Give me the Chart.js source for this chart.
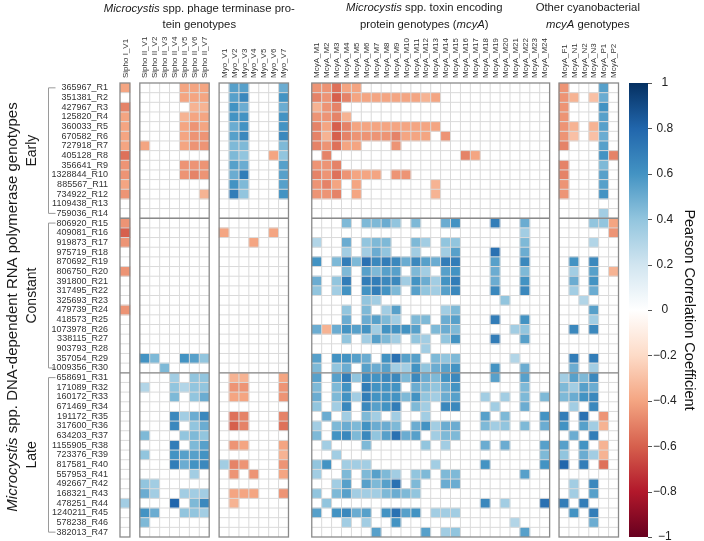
<!DOCTYPE html>
<html><head><meta charset="utf-8">
<script src="https://cdn.jsdelivr.net/npm/chart.js@4"></script>
<style>html,body{margin:0;padding:0;background:#fff}</style>
</head><body>
<canvas id="c" width="704" height="541"></canvas>
<script>
const FONT = "'Liberation Sans', Arial, Helvetica, sans-serif";

const rowLabels = ['365967_R1','351381_R2','427967_R3','125820_R4','360033_R5','670582_R6','727918_R7','405128_R8','356641_R9','1328844_R10','885567_R11','734922_R12','1109438_R13','759036_R14',
'806920_R15','409081_R16','919873_R17','975719_R18','870692_R19','806750_R20','391800_R21','317495_R22','325693_R23','479739_R24','418573_R25','1073978_R26','338115_R27','903793_R28','357054_R29','1009356_R30',
'658691_R31','171089_R32','160172_R33','671469_R34','191172_R35','317600_R36','634203_R37','1155905_R38','723376_R39','817581_R40','557953_R41','492667_R42','168321_R43','478251_R44','1240211_R45','578238_R46','382013_R47'];
const groupNames = ['Early','Constant','Late'];
const groupSizes = [14,16,17];

const siphoICols = ['Sipho I_V1'];
const siphoIICols = ['Sipho II_V1','Sipho II_V2','Sipho II_V3','Sipho II_V4','Sipho II_V5','Sipho II_V6','Sipho II_V7'];
const myoCols = ['Myo_V1','Myo_V2','Myo_V3','Myo_V4','Myo_V5','Myo_V6','Myo_V7'];
const mcyaCols = ['McyA_M1','McyA_M2','McyA_M3','McyA_M4','McyA_M5','McyA_M6','McyA_M7','McyA_M8','McyA_M9','McyA_M10','McyA_M11','McyA_M12','McyA_M13','McyA_M14','McyA_M15','McyA_M16','McyA_M17','McyA_M18','McyA_M19','McyA_M20','McyA_M21','McyA_M22','McyA_M23','McyA_M24'];
const otherCols = ['McyA_F1','McyA_N1','McyA_N2','McyA_N3','McyA_P1','McyA_P2'];

// Pearson correlation values (0 = not shown)
const siphoIVals = [-.4,0,-.5,-.4,-.4,-.4,-.4,-.55,-.45,-.45,-.4,-.45,0,0,
-.45,-.6,-.45,0,0,-.45,0,0,0,-.45,0,0,0,0,0,0,
0,0,0,0,0,0,0,0,0,0,0,0,0,.35,0,0,0];

const siphoIIVals = [
[0,0,0,0,-.4,-.4,-.4],[0,0,0,0,-.4,-.4,-.4],[0,0,0,0,0,-.35,-.35],[0,0,0,0,-.35,-.4,-.4],[0,0,0,0,-.4,-.45,-.4],
[0,0,0,0,-.4,-.45,-.45],[-.4,0,0,0,-.4,-.45,-.45],[0,0,0,0,0,0,0],[0,0,0,0,-.45,-.45,-.45],[0,0,0,0,-.45,-.5,-.45],
[0,0,0,0,0,0,0],[0,0,0,0,0,0,-.35],[0,0,0,0,0,0,0],[0,0,0,0,0,0,0],
[0,0,0,0,0,0,0],[0,0,0,0,0,0,0],[0,0,0,0,0,0,0],[0,0,0,0,0,0,0],[0,0,0,0,0,0,0],[0,0,0,0,0,0,0],[0,0,0,0,0,0,0],
[0,0,0,0,0,0,0],[0,0,0,0,0,0,0],[0,0,0,0,0,0,0],[0,0,0,0,0,0,0],[0,0,0,0,0,0,0],[0,0,0,0,0,0,0],[0,0,0,0,0,0,0],
[.6,.45,0,0,.6,.55,.4],[0,0,.45,0,0,0,0],
[0,0,0,.35,0,.4,.4],[.3,0,0,.4,.3,.4,.4],[0,0,0,.45,0,.4,.5],[0,0,0,0,0,0,0],[0,0,0,.65,.35,.5,.65],
[0,0,0,.65,0,.4,.5],[.45,0,0,0,.4,.45,.4],[0,0,0,.7,0,.45,.55],[.4,0,0,.6,.55,.55,.6],[0,0,0,.7,.5,.6,.65],
[0,0,0,0,0,.35,0],[.4,.35,0,0,0,0,0],[.5,.35,0,0,.35,.35,.35],[0,0,0,.8,0,.45,.65],[.6,.5,0,0,.4,.4,.35],
[.45,0,0,0,0,0,0],[0,0,0,0,0,0,0]];

const myoVals = [
[0,.55,.55,0,0,0,.5],[0,.55,.65,0,0,0,.6],[0,.6,.5,0,0,0,.5],[0,.6,.6,0,0,0,.6],[0,.5,.6,0,0,0,.6],
[0,.55,.65,0,0,0,.65],[0,.45,.45,0,0,0,.45],[0,.45,.4,0,0,-.4,.4],[0,.55,.5,0,0,0,.55],[0,.5,.7,0,0,0,.55],
[0,.6,.45,0,0,0,.55],[0,.7,.4,0,0,0,.6],[0,0,0,0,0,0,0],[0,0,0,0,0,0,0],
[0,0,0,0,0,0,0],[-.4,0,0,0,0,-.4,0],[0,0,0,-.4,0,0,0],[0,0,0,0,0,0,0],[0,0,0,0,0,0,0],[0,0,0,0,0,0,0],[0,0,0,0,0,0,0],
[0,0,0,0,0,0,0],[0,0,0,0,0,0,0],[0,0,0,0,0,0,0],[0,0,0,0,0,0,0],[0,0,0,0,0,0,0],[0,0,0,0,0,0,0],[0,0,0,0,0,0,0],
[0,0,0,0,0,0,0],[0,0,0,0,0,0,0],
[0,-.35,-.35,0,0,0,-.4],[0,-.45,-.45,0,0,0,-.45],[0,-.4,-.4,0,0,0,-.45],[0,0,0,0,0,0,0],[0,-.55,-.5,0,0,0,-.5],
[0,-.6,-.5,0,0,0,-.55],[0,0,0,0,0,0,0],[0,-.45,-.4,0,0,0,-.4],[0,0,0,0,0,0,-.35],[.35,-.5,-.45,0,0,0,-.45],
[0,-.45,0,-.45,0,0,-.4],[0,0,0,0,0,0,0],[0,-.4,-.4,-.4,0,0,-.45],[0,-.35,0,0,0,0,0],[0,0,0,0,0,0,0],
[0,0,0,0,0,0,0],[0,0,0,0,0,0,0]];

const mcyaVals = [
[-.45,-.45,-.55,-.4,-.4,0, 0,0,0,0,0,0, 0,0,0,0,0,0, 0,0,0,0,0,0],
[-.5,-.45,-.6,-.5,-.4,-.4, -.4,-.4,-.4,-.4,-.4,-.35, -.4,0,0,0,0,0, 0,0,0,0,0,0],
[-.35,-.45,-.5,0,0,0, 0,0,0,0,0,0, 0,0,0,0,0,0, 0,0,0,0,0,0],
[-.45,-.45,-.5,-.35,0,0, 0,0,0,0,0,0, 0,0,0,0,0,0, 0,0,0,0,0,0],
[-.5,-.4,-.6,-.5,-.4,-.4, -.4,-.4,-.4,-.4,-.4,-.4, -.4,0,0,0,0,0, 0,0,0,0,0,0],
[-.5,-.35,-.6,-.5,-.45,-.45, -.45,-.45,-.5,-.4,-.4,-.4, 0,-.45,0,0,0,0, 0,0,0,0,0,0],
[-.5,-.45,-.55,-.4,-.4,0, 0,0,-.45,0,0,0, 0,0,0,0,0,0, 0,0,0,0,0,0],
[0,-.5,0,0,0,0, 0,0,0,0,0,0, 0,0,0,-.5,-.4,0, 0,0,0,0,0,0],
[-.45,-.45,-.5,0,0,0, 0,0,0,0,0,0, 0,0,0,0,0,0, 0,0,0,0,0,0],
[-.5,-.45,-.55,-.45,-.4,-.4, -.4,0,-.45,-.45,0,0, 0,0,0,0,0,0, 0,0,0,0,0,0],
[-.45,-.5,-.4,0,-.4,0, 0,0,0,0,0,0, -.35,0,0,0,0,0, 0,0,0,0,0,0],
[-.45,-.45,-.5,0,-.4,0, 0,0,0,0,0,0, -.35,0,0,0,0,0, 0,0,0,0,0,0],
[0,0,0,0,0,0, 0,0,0,0,0,0, 0,0,0,0,0,0, 0,0,0,0,0,0],
[0,0,0,0,0,0, 0,0,0,0,0,0, 0,0,0,0,0,0, 0,0,0,0,0,0],
[0,0,0,.45,0,.45, .45,.5,.4,0,.45,0, 0,.5,.6,0,0,0, .7,0,0,.5,0,0],
[0,0,0,0,0,0, 0,0,0,0,0,0, 0,0,0,0,0,0, 0,0,0,.35,0,0],
[.3,0,0,.5,0,.4, .45,.45,0,0,.45,.35, 0,.4,.4,0,0,0, 0,0,0,.45,0,0],
[0,0,0,.35,0,.35, .5,.4,0,0,.35,0, 0,.35,.55,0,0,0, .75,0,0,.5,0,0],
[.6,0,.45,.7,.45,.75, .65,.7,.65,.5,.65,.55, .5,.7,.7,0,0,0, .55,0,0,.65,0,0],
[0,0,0,.45,0,.55, .45,.55,.55,0,.45,.35, 0,.55,.6,0,0,0, .5,0,0,.45,0,0],
[.5,0,.4,.7,0,.7, .7,.65,.65,.35,.6,.5, .35,.6,.7,0,0,0, .5,0,0,.6,0,0],
[.4,0,.35,.6,0,.6, .7,.6,.45,0,.55,.4, .35,.55,.65,0,0,0, .65,0,0,.65,0,0],
[0,0,0,0,0,.4, .35,0,0,0,0,0, 0,0,0,0,0,0, 0,.4,0,0,0,0],
[0,0,0,.4,0,.45, 0,.35,.55,0,0,0, 0,.35,.45,0,0,0, 0,0,0,0,0,0],
[0,0,0,.5,0,.5, .55,.45,.35,0,.45,.45, 0,.5,.55,0,0,0, .7,0,0,.6,0,0],
[.5,-.35,.5,.6,.55,.6, .35,.6,.6,.6,.55,0, .45,.5,.45,0,0,0, 0,0,.35,.4,0,0],
[0,0,0,.4,0,.35, .55,.45,.35,0,.4,.35, 0,.4,.6,0,0,0, .7,0,0,.55,0,0],
[0,0,0,0,0,0, 0,0,0,0,0,.35, 0,0,0,0,0,0, 0,0,0,0,0,0],
[.55,0,.6,.6,.55,.5, 0,.6,.75,.55,.55,0, .45,.4,.45,0,0,0, 0,0,.3,0,0,0],
[.45,0,.4,.5,0,.55, .5,.55,.35,.35,.6,.4, .5,.55,.6,0,0,0, .6,0,0,.5,0,0],
[.55,0,.55,.7,.4,.65, .6,.65,.65,.45,.65,.5, .45,.6,.65,0,0,0, .55,0,0,.55,0,0],
[.45,0,.45,.6,0,.7, .6,.6,.6,0,.5,.45, .4,.5,.6,0,0,0, 0,0,0,.45,0,0],
[.5,0,.45,.6,.35,.7, .6,.6,.6,.45,.6,.4, .35,.5,.55,0,0,.35, 0,.35,0,.45,0,.45],
[.4,0,.35,.65,0,.65, .55,.6,.7,0,.45,.35, 0,.65,.65,0,0,0, .35,0,0,.5,0,0],
[0,.5,0,.35,0,.45, .35,0,.35,0,0,.35, 0,0,0,0,0,.55, 0,.45,0,0,0,.6],
[.35,0,.45,.5,.45,.6, .5,.5,.45,0,.5,.6, .35,.5,.5,0,0,.45, .35,.4,0,.45,0,.5],
[.45,0,.6,.65,.45,.65, .4,.55,.75,.5,.55,0, .35,.45,.45,0,0,0, 0,0,0,0,0,0],
[0,.35,0,0,0,.45, 0,0,0,0,0,.4, 0,.35,0,0,0,.5, 0,.5,0,0,0,.55],
[0,0,.35,0,0,0, 0,0,0,0,0,0, 0,0,0,0,0,0, 0,0,0,0,0,.45],
[.4,.6,0,.35,.35,.35, 0,0,0,0,0,0, .35,0,0,0,0,.6, 0,0,0,0,0,.6],
[.35,0,0,.45,0,.45, .55,.45,.35,0,.4,.45, 0,.45,.45,0,0,0, 0,0,0,.55,0,0],
[0,0,.35,.55,0,.55, .45,.55,.75,0,.45,0, 0,.5,.5,0,0,0, 0,0,0,0,0,0],
[.4,0,.45,.55,.35,.35, .35,.45,.5,.45,.4,0, 0,0,0,0,0,0, 0,0,0,0,0,0],
[0,.4,0,0,0,0, 0,0,0,0,0,0, 0,0,0,0,0,.65, 0,.35,0,0,0,.75],
[.55,0,.6,.65,.5,.55, 0,.6,.75,.55,.6,0, .35,.35,.35,0,0,0, 0,0,0,0,0,0],
[0,0,0,.35,0,.35, 0,0,.6,0,0,0, 0,0,0,0,0,0, 0,0,.3,0,0,0],
[0,0,0,0,0,0, .55,0,0,0,0,.55, 0,.35,.4,0,0,0, 0,0,0,.55,0,0]];

const otherVals = [
[-.45,0,0,0,.55,0],[-.45,-.35,0,-.3,.5,0],[-.45,0,0,0,.6,0],[-.45,0,0,0,.55,0],[-.45,-.35,0,-.35,.55,0],
[-.45,-.3,0,-.3,.5,0],[-.5,0,0,0,.55,0],[0,0,0,0,.6,-.5],[-.5,0,0,0,.45,0],[-.5,0,0,0,.55,0],
[-.45,0,0,0,.55,0],[-.45,0,0,0,.6,0],[0,0,0,0,0,0],[0,0,0,0,.35,0],
[0,0,0,.4,.4,-.4],[0,0,0,0,0,-.45],[0,0,0,.3,0,0],[0,0,0,0,0,0],[0,.6,0,.65,0,0],[0,.35,0,.55,0,-.35],
[0,.5,0,.6,0,0],[0,.35,0,.5,0,0],[0,0,.3,0,0,0],[0,0,0,.55,0,0],[0,0,0,.35,0,0],[0,.65,0,.65,0,0],
[0,0,0,0,0,0],[0,0,0,0,0,0],[0,.7,0,.7,0,0],[0,.5,0,.35,0,0],
[.35,.55,.45,.65,0,0],[.45,.35,.55,.5,0,0],[.45,.5,.6,.65,0,0],[0,.35,0,.65,0,0],[.7,0,.75,0,-.45,0],
[.6,0,.55,.35,-.35,0],[0,.5,0,.7,0,0],[.55,0,.6,0,-.35,0],[.4,0,.5,.35,-.35,0],[.8,0,.7,0,-.55,0],
[0,0,0,0,0,0],[0,.35,0,.65,0,0],[0,.35,0,.55,0,0],[.7,0,.7,0,0,0],[0,.6,0,.7,0,0],[0,0,0,.5,0,0],[0,0,0,0,0,0]];

// ---------- layout / style ----------
const PANEL_START = [0, 2, 10, 19.35, 44.3];
const X_MAX = 50.3;
const HEADER_X = [8, 30.7, 47.2];
const RDBU = ['#67001F','#B2182B','#D6604D','#F4A582','#FDDBC7','#FFFFFF','#D1E5F0','#92C5DE','#4393C3','#2166AC','#053061'];

function hex2rgb(h){ return [1,3,5].map(i => parseInt(h.substr(i,2),16)); }
const RGB = RDBU.map(hex2rgb);
function colorFor(v){
  const t = Math.max(0, Math.min(10, (v + 1) / 2 * 10));
  const i = Math.min(9, Math.floor(t)), f = t - i;
  const a = RGB[i], b = RGB[i+1];
  const c = a.map((x,k) => Math.round(x + (b[k]-x)*f));
  return `rgb(${c[0]},${c[1]},${c[2]})`;
}

const panels = [
  {cols: siphoICols, vals: siphoIVals.map(v => [v])},
  {cols: siphoIICols, vals: siphoIIVals},
  {cols: myoCols, vals: myoVals},
  {cols: mcyaCols, vals: mcyaVals},
  {cols: otherCols, vals: otherVals}
];

const datasets = [], tickPos = [], tickLab = [];
panels.forEach((p, pi) => {
  p.cols.forEach((c, j) => {
    const x0 = PANEL_START[pi] + j;
    tickPos.push(x0 + 0.5); tickLab.push(c);
    datasets.push({
      label: c,
      data: p.vals.map(r => r[j] ? [x0, x0 + 1] : null),
      backgroundColor: p.vals.map(r => colorFor(r[j] || 0)),
      borderWidth: 0, grouped: false, barPercentage: 1, categoryPercentage: 1
    });
  });
});

function drawRich(ctx, parts, cx, cy, size){
  const w = parts.map(([t, it]) => { ctx.font = `${it ? 'italic ' : ''}${size}px ${FONT}`; return ctx.measureText(t).width; });
  let xx = cx - w.reduce((a,b) => a+b, 0) / 2;
  ctx.textAlign = 'left';
  parts.forEach(([t, it], k) => { ctx.font = `${it ? 'italic ' : ''}${size}px ${FONT}`; ctx.fillText(t, xx, cy); xx += w[k]; });
}

const decor = {
  id: 'decor',
  afterDatasetsDraw(chart){
    const {ctx, scales: {x, y}} = chart;
    const n = rowLabels.length;
    const top = y.getPixelForValue(-0.5), bot = y.getPixelForValue(n - 0.5);
    ctx.save();
    panels.forEach((p, pi) => {
      const l = x.getPixelForValue(PANEL_START[pi]), r = x.getPixelForValue(PANEL_START[pi] + p.cols.length);
      ctx.strokeStyle = '#dadada'; ctx.lineWidth = 1;
      ctx.beginPath();
      for (let j = 1; j < p.cols.length; j++){ const px = x.getPixelForValue(PANEL_START[pi] + j); ctx.moveTo(px, top); ctx.lineTo(px, bot); }
      for (let i = 1; i < n; i++){ const py = y.getPixelForValue(i - 0.5); ctx.moveTo(l, py); ctx.lineTo(r, py); }
      ctx.stroke();
      ctx.strokeStyle = '#8a8a8a'; ctx.lineWidth = 1.3;
      ctx.beginPath();
      let acc = 0;
      groupSizes.slice(0, -1).forEach(g => { acc += g; const py = y.getPixelForValue(acc - 0.5); ctx.moveTo(l, py); ctx.lineTo(r, py); });
      ctx.stroke();
      ctx.strokeRect(l, top, r - l, bot - top);
    });
    ctx.restore();
  },
  afterDraw(chart){
    const {ctx, scales: {x, y, cb}} = chart;
    ctx.save();
    // column labels (rotated), placed on the x scale
    ctx.fillStyle = '#333'; ctx.font = `8px ${FONT}`;
    tickPos.forEach((v, i) => {
      ctx.save(); ctx.translate(x.getPixelForValue(v), x.bottom - 5); ctx.rotate(-Math.PI / 2);
      ctx.textAlign = 'left'; ctx.textBaseline = 'middle'; ctx.fillText(tickLab[i], 0, 0.5); ctx.restore();
    });
    ctx.fillStyle = '#1a1a1a'; ctx.textBaseline = 'alphabetic';
    // headers
    drawRich(ctx, [['Microcystis', true], [' spp. phage terminase pro-', false]], x.getPixelForValue(HEADER_X[0]), 12, 11.3);
    drawRich(ctx, [['tein genotypes', false]], x.getPixelForValue(HEADER_X[0]), 28, 11.3);
    drawRich(ctx, [['Microcystis', true], [' spp. toxin encoding', false]], x.getPixelForValue(HEADER_X[1]), 11, 11.3);
    drawRich(ctx, [['protein genotypes (', false], ['mcyA', true], [')', false]], x.getPixelForValue(HEADER_X[1]), 28, 11.3);
    drawRich(ctx, [['Other cyanobacterial', false]], x.getPixelForValue(HEADER_X[2]), 11, 11.3);
    drawRich(ctx, [['mcyA', true], [' genotypes', false]], x.getPixelForValue(HEADER_X[2]), 28, 11.3);
    // group brackets
    let start = 0;
    groupSizes.forEach((g, gi) => {
      const y0 = y.getPixelForValue(start), y1 = y.getPixelForValue(start + g - 1);
      ctx.strokeStyle = '#9a9a9a'; ctx.lineWidth = 1;
      ctx.beginPath(); ctx.moveTo(55.5, y0); ctx.lineTo(48.5, y0); ctx.lineTo(48.5, y1); ctx.lineTo(55.5, y1); ctx.stroke();
      ctx.save(); ctx.translate(32, (y0 + y1) / 2); ctx.rotate(-Math.PI / 2);
      ctx.font = `14px ${FONT}`; ctx.textAlign = 'center'; ctx.textBaseline = 'middle';
      ctx.fillText(groupNames[gi], 0, 0); ctx.restore();
      start += g;
    });
    // big y title
    ctx.save(); ctx.translate(13, 307); ctx.rotate(-Math.PI / 2); ctx.textBaseline = 'middle';
    drawRich(ctx, [['Microcystis', true], [' spp. DNA-dependent RNA polymerase genotypes', false]], 0, 0, 15);
    ctx.restore();
    // colour bar
    const t = cb.getPixelForValue(1), b = cb.getPixelForValue(-1), bx = cb.left + 10.5, bw = 19;
    const grad = ctx.createLinearGradient(0, t, 0, b);
    RDBU.slice().reverse().forEach((c, i) => grad.addColorStop(i / 10, c));
    ctx.fillStyle = grad; ctx.fillRect(bx, t, bw, b - t);
    ctx.strokeStyle = '#555'; ctx.lineWidth = 1; ctx.beginPath();
    cb.ticks.forEach(tk => { const py = Math.round(cb.getPixelForValue(tk.value)) + 0.5; ctx.moveTo(bx + bw, py); ctx.lineTo(bx + bw + 4, py); });
    ctx.stroke();
    ctx.restore();
  }
};

new Chart(document.getElementById('c'), {
  type: 'bar',
  data: {labels: rowLabels, datasets},
  plugins: [decor],
  options: {
    indexAxis: 'y', responsive: false, animation: false, devicePixelRatio: 1,
    layout: {padding: {left: 10, right: 0, top: 0, bottom: 4}},
    plugins: {legend: {display: false}, tooltip: {enabled: false}},
    scales: {
      x: {type: 'linear', position: 'top', min: 0, max: X_MAX, offset: false,
        afterFit: s => { s.height = 83; s.paddingLeft = 0; s.paddingRight = 0; },
        ticks: {display: false},
        grid: {display: false, drawTicks: false}, border: {display: false}},
      y: {type: 'category', offset: true,
        afterFit: s => { s.width = 110; s.paddingTop = 0; s.paddingBottom = 0; },
        ticks: {autoSkip: false, padding: 12, font: {size: 9, family: FONT}, color: '#333'},
        grid: {display: false, drawTicks: false}, border: {display: false}},
      cb: {type: 'linear', position: 'right', axis: 'y', min: -1, max: 1, offset: false,
        afterFit: s => { s.width = 85.5; s.paddingTop = 0; s.paddingBottom = 0; },
        ticks: {stepSize: 0.2, padding: 34.5, crossAlign: 'center', font: {size: 12, family: FONT}, color: '#222',
          callback: v => { const m = Math.round(v * 10) / 10; return m < 0 ? '\u2212' + Math.abs(m) : String(m); }},
        grid: {display: false, drawTicks: false}, border: {display: false},
        title: {display: true, text: 'Pearson Correlation Coefficient', font: {size: 14.5, family: FONT}, color: '#111', padding: {top: 6, bottom: 0}}}
    }
  }
});
</script>
</body></html>
